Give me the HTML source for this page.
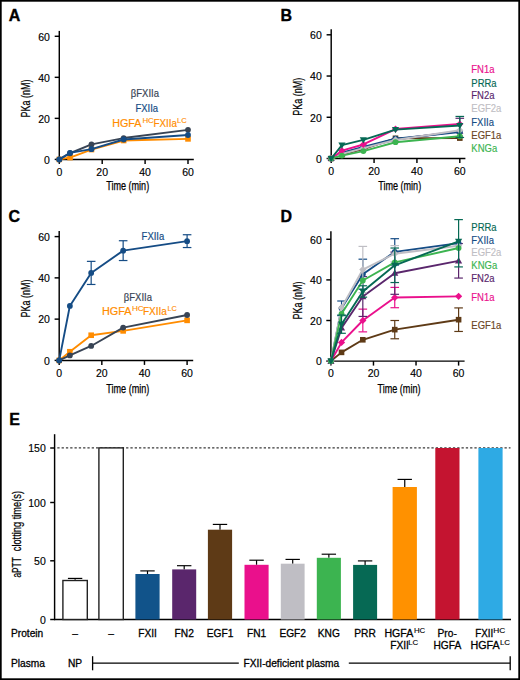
<!DOCTYPE html>
<html><head><meta charset="utf-8"><title>Figure</title>
<style>
html,body{margin:0;padding:0;background:#fff;}
body{width:520px;height:680px;overflow:hidden;}
svg{display:block;font-family:"Liberation Sans", sans-serif;}
</style></head>
<body>
<svg width="520" height="680" viewBox="0 0 520 680">
<rect x="0" y="0" width="520" height="680" fill="#fff"/>
<g>
<text x="8.80" y="20.60" font-size="16" fill="#000" text-anchor="start" font-weight="bold" stroke="#000" stroke-width="0.35">A</text>
<line x1="59.30" y1="30.90" x2="59.30" y2="160.05" stroke="#000" stroke-width="1.45" />
<line x1="58.65" y1="159.40" x2="193.80" y2="159.40" stroke="#000" stroke-width="1.45" />
<line x1="54.70" y1="159.40" x2="59.30" y2="159.40" stroke="#000" stroke-width="1.45" />
<text x="49.90" y="163.70" font-size="10.5" fill="#000" text-anchor="end" font-weight="normal"  stroke="#000" stroke-width="0.15">0</text>
<line x1="54.70" y1="118.37" x2="59.30" y2="118.37" stroke="#000" stroke-width="1.45" />
<text x="49.90" y="122.67" font-size="10.5" fill="#000" text-anchor="end" font-weight="normal"  stroke="#000" stroke-width="0.15">20</text>
<line x1="54.70" y1="77.33" x2="59.30" y2="77.33" stroke="#000" stroke-width="1.45" />
<text x="49.90" y="81.63" font-size="10.5" fill="#000" text-anchor="end" font-weight="normal"  stroke="#000" stroke-width="0.15">40</text>
<line x1="54.70" y1="36.30" x2="59.30" y2="36.30" stroke="#000" stroke-width="1.45" />
<text x="49.90" y="40.60" font-size="10.5" fill="#000" text-anchor="end" font-weight="normal"  stroke="#000" stroke-width="0.15">60</text>
<line x1="59.30" y1="159.40" x2="59.30" y2="163.90" stroke="#000" stroke-width="1.45" />
<text x="59.30" y="175.50" font-size="10.5" fill="#000" text-anchor="middle" font-weight="normal"  stroke="#000" stroke-width="0.15">0</text>
<line x1="102.20" y1="159.40" x2="102.20" y2="163.90" stroke="#000" stroke-width="1.45" />
<text x="102.20" y="175.50" font-size="10.5" fill="#000" text-anchor="middle" font-weight="normal"  stroke="#000" stroke-width="0.15">20</text>
<line x1="145.10" y1="159.40" x2="145.10" y2="163.90" stroke="#000" stroke-width="1.45" />
<text x="145.10" y="175.50" font-size="10.5" fill="#000" text-anchor="middle" font-weight="normal"  stroke="#000" stroke-width="0.15">40</text>
<line x1="188.00" y1="159.40" x2="188.00" y2="163.90" stroke="#000" stroke-width="1.45" />
<text x="188.00" y="175.50" font-size="10.5" fill="#000" text-anchor="middle" font-weight="normal"  stroke="#000" stroke-width="0.15">60</text>
<text transform="translate(30.30,98.40) rotate(-90)" font-size="12.5" text-anchor="middle" textLength="38" lengthAdjust="spacingAndGlyphs" stroke="#000" stroke-width="0.25">PKa (nM)</text>
<text x="127.70" y="190.00" font-size="12" text-anchor="middle" textLength="43" lengthAdjust="spacingAndGlyphs" stroke="#000" stroke-width="0.25">Time (min)</text>
<text transform="translate(130.80,97.30) scale(0.95,1)" font-size="10" fill="#384455" text-anchor="start" font-weight="normal"  stroke="#384455" stroke-width="0.18">&#946;FXIIa</text>
<text transform="translate(135.40,112.00) scale(0.95,1)" font-size="10" fill="#154c85" text-anchor="start" font-weight="normal"  stroke="#154c85" stroke-width="0.18">FXIIa</text>
<text x="112.24" y="126.60" font-size="10" fill="#ff8c00" textLength="29.29" lengthAdjust="spacingAndGlyphs" stroke="#ff8c00" stroke-width="0.18">HGFA</text>
<text x="142.46" y="123.40" font-size="7.8" fill="#ff8c00" textLength="11.34" lengthAdjust="spacingAndGlyphs" stroke="#ff8c00" stroke-width="0.12">HC</text>
<text x="153.39" y="126.60" font-size="10" fill="#ff8c00" textLength="23.51" lengthAdjust="spacingAndGlyphs" stroke="#ff8c00" stroke-width="0.18">FXIIa</text>
<text x="177.08" y="123.40" font-size="7.8" fill="#ff8c00" textLength="9.71" lengthAdjust="spacingAndGlyphs" stroke="#ff8c00" stroke-width="0.12">LC</text>
<polyline points="59.30,159.40 70.02,157.55 91.47,149.55 123.65,140.52 188.00,138.88" fill="none" stroke="#ff8c00" stroke-width="1.9" stroke-linejoin="round"/>
<rect x="56.50" y="156.60" width="5.60" height="5.60" fill="#ff8c00"/>
<rect x="67.22" y="154.75" width="5.60" height="5.60" fill="#ff8c00"/>
<rect x="88.67" y="146.75" width="5.60" height="5.60" fill="#ff8c00"/>
<rect x="120.85" y="137.72" width="5.60" height="5.60" fill="#ff8c00"/>
<rect x="185.20" y="136.08" width="5.60" height="5.60" fill="#ff8c00"/>
<polyline points="59.30,159.40 70.02,153.25 91.47,144.42 123.65,138.06 188.00,129.86" fill="none" stroke="#384455" stroke-width="1.9" stroke-linejoin="round"/>
<circle cx="59.30" cy="159.40" r="2.90" fill="#384455"/>
<circle cx="70.02" cy="153.25" r="2.90" fill="#384455"/>
<circle cx="91.47" cy="144.42" r="2.90" fill="#384455"/>
<circle cx="123.65" cy="138.06" r="2.90" fill="#384455"/>
<circle cx="188.00" cy="129.86" r="2.90" fill="#384455"/>
<polyline points="59.30,159.40 70.02,152.83 91.47,149.14 123.65,139.50 188.00,134.99" fill="none" stroke="#154c85" stroke-width="1.9" stroke-linejoin="round"/>
<circle cx="59.30" cy="159.40" r="2.90" fill="#154c85"/>
<circle cx="70.02" cy="152.83" r="2.90" fill="#154c85"/>
<circle cx="91.47" cy="149.14" r="2.90" fill="#154c85"/>
<circle cx="123.65" cy="139.50" r="2.90" fill="#154c85"/>
<circle cx="188.00" cy="134.99" r="2.90" fill="#154c85"/>
</g>
<g>
<text x="280.50" y="20.60" font-size="16" fill="#000" text-anchor="start" font-weight="bold" stroke="#000" stroke-width="0.35">B</text>
<line x1="331.20" y1="29.20" x2="331.20" y2="159.15" stroke="#000" stroke-width="1.45" />
<line x1="330.55" y1="158.50" x2="465.40" y2="158.50" stroke="#000" stroke-width="1.45" />
<line x1="326.60" y1="158.50" x2="331.20" y2="158.50" stroke="#000" stroke-width="1.45" />
<text x="321.80" y="162.80" font-size="10.5" fill="#000" text-anchor="end" font-weight="normal"  stroke="#000" stroke-width="0.15">0</text>
<line x1="326.60" y1="117.27" x2="331.20" y2="117.27" stroke="#000" stroke-width="1.45" />
<text x="321.80" y="121.57" font-size="10.5" fill="#000" text-anchor="end" font-weight="normal"  stroke="#000" stroke-width="0.15">20</text>
<line x1="326.60" y1="76.03" x2="331.20" y2="76.03" stroke="#000" stroke-width="1.45" />
<text x="321.80" y="80.33" font-size="10.5" fill="#000" text-anchor="end" font-weight="normal"  stroke="#000" stroke-width="0.15">40</text>
<line x1="326.60" y1="34.80" x2="331.20" y2="34.80" stroke="#000" stroke-width="1.45" />
<text x="321.80" y="39.10" font-size="10.5" fill="#000" text-anchor="end" font-weight="normal"  stroke="#000" stroke-width="0.15">60</text>
<line x1="331.20" y1="158.50" x2="331.20" y2="163.00" stroke="#000" stroke-width="1.45" />
<text x="331.20" y="175.00" font-size="10.5" fill="#000" text-anchor="middle" font-weight="normal"  stroke="#000" stroke-width="0.15">0</text>
<line x1="374.07" y1="158.50" x2="374.07" y2="163.00" stroke="#000" stroke-width="1.45" />
<text x="374.07" y="175.00" font-size="10.5" fill="#000" text-anchor="middle" font-weight="normal"  stroke="#000" stroke-width="0.15">20</text>
<line x1="416.93" y1="158.50" x2="416.93" y2="163.00" stroke="#000" stroke-width="1.45" />
<text x="416.93" y="175.00" font-size="10.5" fill="#000" text-anchor="middle" font-weight="normal"  stroke="#000" stroke-width="0.15">40</text>
<line x1="459.80" y1="158.50" x2="459.80" y2="163.00" stroke="#000" stroke-width="1.45" />
<text x="459.80" y="175.00" font-size="10.5" fill="#000" text-anchor="middle" font-weight="normal"  stroke="#000" stroke-width="0.15">60</text>
<text transform="translate(301.50,96.80) rotate(-90)" font-size="12.5" text-anchor="middle" textLength="38" lengthAdjust="spacingAndGlyphs" stroke="#000" stroke-width="0.25">PKa (nM)</text>
<text x="399.70" y="189.50" font-size="12" text-anchor="middle" textLength="43" lengthAdjust="spacingAndGlyphs" stroke="#000" stroke-width="0.25">Time (min)</text>
<text transform="translate(471.30,72.60) scale(0.95,1)" font-size="10" fill="#ea108c" text-anchor="start" font-weight="normal"  stroke="#ea108c" stroke-width="0.15">FN1a</text>
<text transform="translate(471.30,86.80) scale(0.95,1)" font-size="10" fill="#066954" text-anchor="start" font-weight="normal"  stroke="#066954" stroke-width="0.15">PRRa</text>
<text transform="translate(471.30,98.90) scale(0.95,1)" font-size="10" fill="#5a266c" text-anchor="start" font-weight="normal"  stroke="#5a266c" stroke-width="0.15">FN2a</text>
<text transform="translate(471.30,112.20) scale(0.95,1)" font-size="10" fill="#bfbec4" text-anchor="start" font-weight="normal"  stroke="#bfbec4" stroke-width="0.15">EGF2a</text>
<text transform="translate(471.30,126.20) scale(0.95,1)" font-size="10" fill="#154c85" text-anchor="start" font-weight="normal"  stroke="#154c85" stroke-width="0.15">FXIIa</text>
<text transform="translate(471.30,138.60) scale(0.95,1)" font-size="10" fill="#6b4626" text-anchor="start" font-weight="normal"  stroke="#6b4626" stroke-width="0.15">EGF1a</text>
<text transform="translate(471.30,151.80) scale(0.95,1)" font-size="10" fill="#3cb450" text-anchor="start" font-weight="normal"  stroke="#3cb450" stroke-width="0.15">KNGa</text>
<polyline points="331.20,158.50 341.92,154.58 363.35,149.02 395.50,138.30 459.80,138.09" fill="none" stroke="#5e3a16" stroke-width="1.9" stroke-linejoin="round"/>
<rect x="328.40" y="155.70" width="5.60" height="5.60" fill="#5e3a16"/>
<rect x="339.12" y="151.78" width="5.60" height="5.60" fill="#5e3a16"/>
<rect x="360.55" y="146.22" width="5.60" height="5.60" fill="#5e3a16"/>
<rect x="392.70" y="135.50" width="5.60" height="5.60" fill="#5e3a16"/>
<rect x="457.00" y="135.29" width="5.60" height="5.60" fill="#5e3a16"/>
<line x1="459.80" y1="118.30" x2="459.80" y2="131.08" stroke="#5a266c" stroke-width="1.2" />
<line x1="455.50" y1="118.30" x2="464.10" y2="118.30" stroke="#5a266c" stroke-width="1.2" />
<polyline points="331.20,158.50 341.92,153.55 363.35,147.78 395.50,139.53 459.80,131.08" fill="none" stroke="#5a266c" stroke-width="1.9" stroke-linejoin="round"/>
<path d="M331.20 154.90L334.80 161.10L327.60 161.10Z" fill="#5a266c"/>
<path d="M341.92 149.95L345.52 156.15L338.32 156.15Z" fill="#5a266c"/>
<path d="M363.35 144.18L366.95 150.38L359.75 150.38Z" fill="#5a266c"/>
<path d="M395.50 135.93L399.10 142.13L391.90 142.13Z" fill="#5a266c"/>
<path d="M459.80 127.48L463.40 133.68L456.20 133.68Z" fill="#5a266c"/>
<polyline points="331.20,158.50 341.92,152.73 363.35,146.95 395.50,138.71 459.80,132.11" fill="none" stroke="#154c85" stroke-width="1.9" stroke-linejoin="round"/>
<circle cx="331.20" cy="158.50" r="2.90" fill="#154c85"/>
<circle cx="341.92" cy="152.73" r="2.90" fill="#154c85"/>
<circle cx="363.35" cy="146.95" r="2.90" fill="#154c85"/>
<circle cx="395.50" cy="138.71" r="2.90" fill="#154c85"/>
<circle cx="459.80" cy="132.11" r="2.90" fill="#154c85"/>
<polyline points="331.20,158.50 341.92,153.96 363.35,148.19 395.50,139.94 459.80,130.26" fill="none" stroke="#bfbec4" stroke-width="1.9" stroke-linejoin="round"/>
<path d="M331.20 154.90L334.80 158.50L331.20 162.10L327.60 158.50Z" fill="#bfbec4"/>
<path d="M341.92 150.36L345.52 153.96L341.92 157.56L338.32 153.96Z" fill="#bfbec4"/>
<path d="M363.35 144.59L366.95 148.19L363.35 151.79L359.75 148.19Z" fill="#bfbec4"/>
<path d="M395.50 136.34L399.10 139.94L395.50 143.54L391.90 139.94Z" fill="#bfbec4"/>
<path d="M459.80 126.66L463.40 130.26L459.80 133.86L456.20 130.26Z" fill="#bfbec4"/>
<polyline points="331.20,158.50 341.92,150.67 363.35,144.48 395.50,129.02 459.80,124.07" fill="none" stroke="#ea108c" stroke-width="1.9" stroke-linejoin="round"/>
<path d="M331.20 154.90L334.80 158.50L331.20 162.10L327.60 158.50Z" fill="#ea108c"/>
<path d="M341.92 147.07L345.52 150.67L341.92 154.27L338.32 150.67Z" fill="#ea108c"/>
<path d="M363.35 140.88L366.95 144.48L363.35 148.08L359.75 144.48Z" fill="#ea108c"/>
<path d="M395.50 125.42L399.10 129.02L395.50 132.62L391.90 129.02Z" fill="#ea108c"/>
<path d="M459.80 120.47L463.40 124.07L459.80 127.67L456.20 124.07Z" fill="#ea108c"/>
<polyline points="331.20,158.50 341.92,155.61 363.35,151.08 395.50,142.21 459.80,136.23" fill="none" stroke="#3cb450" stroke-width="1.9" stroke-linejoin="round"/>
<circle cx="331.20" cy="158.50" r="2.90" fill="#3cb450"/>
<circle cx="341.92" cy="155.61" r="2.90" fill="#3cb450"/>
<circle cx="363.35" cy="151.08" r="2.90" fill="#3cb450"/>
<circle cx="395.50" cy="142.21" r="2.90" fill="#3cb450"/>
<circle cx="459.80" cy="136.23" r="2.90" fill="#3cb450"/>
<line x1="459.80" y1="116.44" x2="459.80" y2="137.47" stroke="#066954" stroke-width="1.2" />
<line x1="455.50" y1="116.44" x2="464.10" y2="116.44" stroke="#066954" stroke-width="1.2" />
<line x1="455.50" y1="137.47" x2="464.10" y2="137.47" stroke="#066954" stroke-width="1.2" />
<polyline points="331.20,158.50 341.92,145.10 363.35,139.94 395.50,129.64 459.80,125.51" fill="none" stroke="#066954" stroke-width="1.9" stroke-linejoin="round"/>
<path d="M331.20 162.10L334.80 155.90L327.60 155.90Z" fill="#066954"/>
<path d="M341.92 148.70L345.52 142.50L338.32 142.50Z" fill="#066954"/>
<path d="M363.35 143.54L366.95 137.34L359.75 137.34Z" fill="#066954"/>
<path d="M395.50 133.24L399.10 127.04L391.90 127.04Z" fill="#066954"/>
<path d="M459.80 129.11L463.40 122.91L456.20 122.91Z" fill="#066954"/>
</g>
<g>
<text x="8.50" y="222.30" font-size="16" fill="#000" text-anchor="start" font-weight="bold" stroke="#000" stroke-width="0.35">C</text>
<line x1="59.20" y1="231.10" x2="59.20" y2="361.05" stroke="#000" stroke-width="1.45" />
<line x1="58.55" y1="360.40" x2="193.20" y2="360.40" stroke="#000" stroke-width="1.45" />
<line x1="54.60" y1="360.40" x2="59.20" y2="360.40" stroke="#000" stroke-width="1.45" />
<text x="49.90" y="364.70" font-size="10.5" fill="#000" text-anchor="end" font-weight="normal"  stroke="#000" stroke-width="0.15">0</text>
<line x1="54.60" y1="319.13" x2="59.20" y2="319.13" stroke="#000" stroke-width="1.45" />
<text x="49.90" y="323.43" font-size="10.5" fill="#000" text-anchor="end" font-weight="normal"  stroke="#000" stroke-width="0.15">20</text>
<line x1="54.60" y1="277.87" x2="59.20" y2="277.87" stroke="#000" stroke-width="1.45" />
<text x="49.90" y="282.17" font-size="10.5" fill="#000" text-anchor="end" font-weight="normal"  stroke="#000" stroke-width="0.15">40</text>
<line x1="54.60" y1="236.60" x2="59.20" y2="236.60" stroke="#000" stroke-width="1.45" />
<text x="49.90" y="240.90" font-size="10.5" fill="#000" text-anchor="end" font-weight="normal"  stroke="#000" stroke-width="0.15">60</text>
<line x1="59.20" y1="360.40" x2="59.20" y2="364.90" stroke="#000" stroke-width="1.45" />
<text x="59.20" y="376.50" font-size="10.5" fill="#000" text-anchor="middle" font-weight="normal"  stroke="#000" stroke-width="0.15">0</text>
<line x1="101.83" y1="360.40" x2="101.83" y2="364.90" stroke="#000" stroke-width="1.45" />
<text x="101.83" y="376.50" font-size="10.5" fill="#000" text-anchor="middle" font-weight="normal"  stroke="#000" stroke-width="0.15">20</text>
<line x1="144.47" y1="360.40" x2="144.47" y2="364.90" stroke="#000" stroke-width="1.45" />
<text x="144.47" y="376.50" font-size="10.5" fill="#000" text-anchor="middle" font-weight="normal"  stroke="#000" stroke-width="0.15">40</text>
<line x1="187.10" y1="360.40" x2="187.10" y2="364.90" stroke="#000" stroke-width="1.45" />
<text x="187.10" y="376.50" font-size="10.5" fill="#000" text-anchor="middle" font-weight="normal"  stroke="#000" stroke-width="0.15">60</text>
<text transform="translate(30.30,298.60) rotate(-90)" font-size="12.5" text-anchor="middle" textLength="38" lengthAdjust="spacingAndGlyphs" stroke="#000" stroke-width="0.25">PKa (nM)</text>
<text x="127.80" y="392.80" font-size="12" text-anchor="middle" textLength="43" lengthAdjust="spacingAndGlyphs" stroke="#000" stroke-width="0.25">Time (min)</text>
<text transform="translate(141.60,239.80) scale(0.95,1)" font-size="10" fill="#154c85" text-anchor="start" font-weight="normal"  stroke="#154c85" stroke-width="0.18">FXIIa</text>
<text transform="translate(123.80,301.00) scale(0.95,1)" font-size="10" fill="#384455" text-anchor="start" font-weight="normal"  stroke="#384455" stroke-width="0.18">&#946;FXIIa</text>
<text x="101.93" y="315.00" font-size="10" fill="#ff8c00" textLength="29.59" lengthAdjust="spacingAndGlyphs" stroke="#ff8c00" stroke-width="0.18">HGFA</text>
<text x="131.93" y="311.20" font-size="7.8" fill="#ff8c00" textLength="11.78" lengthAdjust="spacingAndGlyphs" stroke="#ff8c00" stroke-width="0.12">HC</text>
<text x="142.98" y="315.00" font-size="10" fill="#ff8c00" textLength="23.92" lengthAdjust="spacingAndGlyphs" stroke="#ff8c00" stroke-width="0.18">FXIIa</text>
<text x="167.40" y="311.20" font-size="7.8" fill="#ff8c00" textLength="9.38" lengthAdjust="spacingAndGlyphs" stroke="#ff8c00" stroke-width="0.12">LC</text>
<polyline points="59.20,360.40 69.86,351.73 91.17,335.23 123.15,330.89 187.10,320.37" fill="none" stroke="#ff8c00" stroke-width="1.9" stroke-linejoin="round"/>
<rect x="56.40" y="357.60" width="5.60" height="5.60" fill="#ff8c00"/>
<rect x="67.06" y="348.93" width="5.60" height="5.60" fill="#ff8c00"/>
<rect x="88.38" y="332.43" width="5.60" height="5.60" fill="#ff8c00"/>
<rect x="120.35" y="328.09" width="5.60" height="5.60" fill="#ff8c00"/>
<rect x="184.30" y="317.57" width="5.60" height="5.60" fill="#ff8c00"/>
<polyline points="59.20,360.40 69.86,355.45 91.17,345.96 123.15,327.59 187.10,315.01" fill="none" stroke="#384455" stroke-width="1.9" stroke-linejoin="round"/>
<circle cx="59.20" cy="360.40" r="2.90" fill="#384455"/>
<circle cx="69.86" cy="355.45" r="2.90" fill="#384455"/>
<circle cx="91.17" cy="345.96" r="2.90" fill="#384455"/>
<circle cx="123.15" cy="327.59" r="2.90" fill="#384455"/>
<circle cx="187.10" cy="315.01" r="2.90" fill="#384455"/>
<line x1="91.17" y1="261.36" x2="91.17" y2="284.47" stroke="#154c85" stroke-width="1.2" />
<line x1="86.88" y1="261.36" x2="95.47" y2="261.36" stroke="#154c85" stroke-width="1.2" />
<line x1="86.88" y1="284.47" x2="95.47" y2="284.47" stroke="#154c85" stroke-width="1.2" />
<line x1="123.15" y1="240.73" x2="123.15" y2="260.53" stroke="#154c85" stroke-width="1.2" />
<line x1="118.85" y1="240.73" x2="127.45" y2="240.73" stroke="#154c85" stroke-width="1.2" />
<line x1="118.85" y1="260.53" x2="127.45" y2="260.53" stroke="#154c85" stroke-width="1.2" />
<line x1="187.10" y1="234.74" x2="187.10" y2="247.54" stroke="#154c85" stroke-width="1.2" />
<line x1="182.80" y1="234.74" x2="191.40" y2="234.74" stroke="#154c85" stroke-width="1.2" />
<line x1="182.80" y1="247.54" x2="191.40" y2="247.54" stroke="#154c85" stroke-width="1.2" />
<polyline points="59.20,360.40 69.86,305.93 91.17,272.91 123.15,250.63 187.10,241.14" fill="none" stroke="#154c85" stroke-width="1.9" stroke-linejoin="round"/>
<circle cx="59.20" cy="360.40" r="2.90" fill="#154c85"/>
<circle cx="69.86" cy="305.93" r="2.90" fill="#154c85"/>
<circle cx="91.17" cy="272.91" r="2.90" fill="#154c85"/>
<circle cx="123.15" cy="250.63" r="2.90" fill="#154c85"/>
<circle cx="187.10" cy="241.14" r="2.90" fill="#154c85"/>
</g>
<g>
<text x="280.40" y="222.20" font-size="16" fill="#000" text-anchor="start" font-weight="bold" stroke="#000" stroke-width="0.35">D</text>
<line x1="330.90" y1="231.20" x2="330.90" y2="361.75" stroke="#000" stroke-width="1.45" />
<line x1="330.25" y1="361.10" x2="464.60" y2="361.10" stroke="#000" stroke-width="1.45" />
<line x1="326.30" y1="361.10" x2="330.90" y2="361.10" stroke="#000" stroke-width="1.45" />
<text x="321.80" y="365.40" font-size="10.5" fill="#000" text-anchor="end" font-weight="normal"  stroke="#000" stroke-width="0.15">0</text>
<line x1="326.30" y1="320.50" x2="330.90" y2="320.50" stroke="#000" stroke-width="1.45" />
<text x="321.80" y="324.80" font-size="10.5" fill="#000" text-anchor="end" font-weight="normal"  stroke="#000" stroke-width="0.15">20</text>
<line x1="326.30" y1="279.90" x2="330.90" y2="279.90" stroke="#000" stroke-width="1.45" />
<text x="321.80" y="284.20" font-size="10.5" fill="#000" text-anchor="end" font-weight="normal"  stroke="#000" stroke-width="0.15">40</text>
<line x1="326.30" y1="239.30" x2="330.90" y2="239.30" stroke="#000" stroke-width="1.45" />
<text x="321.80" y="243.60" font-size="10.5" fill="#000" text-anchor="end" font-weight="normal"  stroke="#000" stroke-width="0.15">60</text>
<line x1="330.90" y1="361.10" x2="330.90" y2="365.60" stroke="#000" stroke-width="1.45" />
<text x="330.90" y="377.00" font-size="10.5" fill="#000" text-anchor="middle" font-weight="normal"  stroke="#000" stroke-width="0.15">0</text>
<line x1="373.47" y1="361.10" x2="373.47" y2="365.60" stroke="#000" stroke-width="1.45" />
<text x="373.47" y="377.00" font-size="10.5" fill="#000" text-anchor="middle" font-weight="normal"  stroke="#000" stroke-width="0.15">20</text>
<line x1="416.03" y1="361.10" x2="416.03" y2="365.60" stroke="#000" stroke-width="1.45" />
<text x="416.03" y="377.00" font-size="10.5" fill="#000" text-anchor="middle" font-weight="normal"  stroke="#000" stroke-width="0.15">40</text>
<line x1="458.60" y1="361.10" x2="458.60" y2="365.60" stroke="#000" stroke-width="1.45" />
<text x="458.60" y="377.00" font-size="10.5" fill="#000" text-anchor="middle" font-weight="normal"  stroke="#000" stroke-width="0.15">60</text>
<text transform="translate(301.50,300.40) rotate(-90)" font-size="12.5" text-anchor="middle" textLength="38" lengthAdjust="spacingAndGlyphs" stroke="#000" stroke-width="0.25">PKa (nM)</text>
<text x="399.00" y="392.80" font-size="12" text-anchor="middle" textLength="43" lengthAdjust="spacingAndGlyphs" stroke="#000" stroke-width="0.25">Time (min)</text>
<text transform="translate(471.30,231.30) scale(0.95,1)" font-size="10" fill="#066954" text-anchor="start" font-weight="normal"  stroke="#066954" stroke-width="0.15">PRRa</text>
<text transform="translate(471.30,244.00) scale(0.95,1)" font-size="10" fill="#154c85" text-anchor="start" font-weight="normal"  stroke="#154c85" stroke-width="0.15">FXIIa</text>
<text transform="translate(471.30,256.40) scale(0.95,1)" font-size="10" fill="#bfbec4" text-anchor="start" font-weight="normal"  stroke="#bfbec4" stroke-width="0.15">EGF2a</text>
<text transform="translate(471.30,269.10) scale(0.95,1)" font-size="10" fill="#3cb450" text-anchor="start" font-weight="normal"  stroke="#3cb450" stroke-width="0.15">KNGa</text>
<text transform="translate(471.30,281.60) scale(0.95,1)" font-size="10" fill="#5a266c" text-anchor="start" font-weight="normal"  stroke="#5a266c" stroke-width="0.15">FN2a</text>
<text transform="translate(471.30,300.60) scale(0.95,1)" font-size="10" fill="#ea108c" text-anchor="start" font-weight="normal"  stroke="#ea108c" stroke-width="0.15">FN1a</text>
<text transform="translate(471.30,328.70) scale(0.95,1)" font-size="10" fill="#6b4626" text-anchor="start" font-weight="normal"  stroke="#6b4626" stroke-width="0.15">EGF1a</text>
<line x1="394.75" y1="320.50" x2="394.75" y2="338.77" stroke="#5e3a16" stroke-width="1.2" />
<line x1="390.45" y1="320.50" x2="399.05" y2="320.50" stroke="#5e3a16" stroke-width="1.2" />
<line x1="390.45" y1="338.77" x2="399.05" y2="338.77" stroke="#5e3a16" stroke-width="1.2" />
<line x1="458.60" y1="307.91" x2="458.60" y2="331.46" stroke="#5e3a16" stroke-width="1.2" />
<line x1="454.30" y1="307.91" x2="462.90" y2="307.91" stroke="#5e3a16" stroke-width="1.2" />
<line x1="454.30" y1="331.46" x2="462.90" y2="331.46" stroke="#5e3a16" stroke-width="1.2" />
<polyline points="330.90,361.10 341.54,352.37 362.82,339.79 394.75,329.64 458.60,319.69" fill="none" stroke="#5e3a16" stroke-width="1.9" stroke-linejoin="round"/>
<rect x="328.10" y="358.30" width="5.60" height="5.60" fill="#5e3a16"/>
<rect x="338.74" y="349.57" width="5.60" height="5.60" fill="#5e3a16"/>
<rect x="360.02" y="336.99" width="5.60" height="5.60" fill="#5e3a16"/>
<rect x="391.95" y="326.84" width="5.60" height="5.60" fill="#5e3a16"/>
<rect x="455.80" y="316.89" width="5.60" height="5.60" fill="#5e3a16"/>
<line x1="362.82" y1="309.13" x2="362.82" y2="331.87" stroke="#ea108c" stroke-width="1.2" />
<line x1="358.52" y1="309.13" x2="367.12" y2="309.13" stroke="#ea108c" stroke-width="1.2" />
<line x1="358.52" y1="331.87" x2="367.12" y2="331.87" stroke="#ea108c" stroke-width="1.2" />
<line x1="394.75" y1="287.41" x2="394.75" y2="307.71" stroke="#ea108c" stroke-width="1.2" />
<line x1="390.45" y1="287.41" x2="399.05" y2="287.41" stroke="#ea108c" stroke-width="1.2" />
<line x1="390.45" y1="307.71" x2="399.05" y2="307.71" stroke="#ea108c" stroke-width="1.2" />
<polyline points="330.90,361.10 341.54,342.42 362.82,320.50 394.75,297.56 458.60,296.34" fill="none" stroke="#ea108c" stroke-width="1.9" stroke-linejoin="round"/>
<path d="M330.90 357.50L334.50 361.10L330.90 364.70L327.30 361.10Z" fill="#ea108c"/>
<path d="M341.54 338.82L345.14 342.42L341.54 346.02L337.94 342.42Z" fill="#ea108c"/>
<path d="M362.82 316.90L366.43 320.50L362.82 324.10L359.22 320.50Z" fill="#ea108c"/>
<path d="M394.75 293.96L398.35 297.56L394.75 301.16L391.15 297.56Z" fill="#ea108c"/>
<path d="M458.60 292.74L462.20 296.34L458.60 299.94L455.00 296.34Z" fill="#ea108c"/>
<line x1="362.82" y1="276.65" x2="362.82" y2="316.44" stroke="#5a266c" stroke-width="1.2" />
<line x1="358.52" y1="276.65" x2="367.12" y2="276.65" stroke="#5a266c" stroke-width="1.2" />
<line x1="358.52" y1="316.44" x2="367.12" y2="316.44" stroke="#5a266c" stroke-width="1.2" />
<line x1="394.75" y1="252.09" x2="394.75" y2="294.31" stroke="#5a266c" stroke-width="1.2" />
<line x1="390.45" y1="252.09" x2="399.05" y2="252.09" stroke="#5a266c" stroke-width="1.2" />
<line x1="390.45" y1="294.31" x2="399.05" y2="294.31" stroke="#5a266c" stroke-width="1.2" />
<line x1="458.60" y1="243.56" x2="458.60" y2="278.07" stroke="#5a266c" stroke-width="1.2" />
<line x1="454.30" y1="243.56" x2="462.90" y2="243.56" stroke="#5a266c" stroke-width="1.2" />
<line x1="454.30" y1="278.07" x2="462.90" y2="278.07" stroke="#5a266c" stroke-width="1.2" />
<polyline points="330.90,361.10 341.54,328.01 362.82,296.55 394.75,273.20 458.60,260.82" fill="none" stroke="#5a266c" stroke-width="1.9" stroke-linejoin="round"/>
<path d="M330.90 357.50L334.50 363.70L327.30 363.70Z" fill="#5a266c"/>
<path d="M341.54 324.41L345.14 330.61L337.94 330.61Z" fill="#5a266c"/>
<path d="M362.82 292.95L366.43 299.15L359.22 299.15Z" fill="#5a266c"/>
<path d="M394.75 269.60L398.35 275.80L391.15 275.80Z" fill="#5a266c"/>
<path d="M458.60 257.22L462.20 263.42L455.00 263.42Z" fill="#5a266c"/>
<line x1="341.54" y1="301.01" x2="341.54" y2="315.63" stroke="#154c85" stroke-width="1.2" />
<line x1="337.24" y1="301.01" x2="345.84" y2="301.01" stroke="#154c85" stroke-width="1.2" />
<line x1="337.24" y1="315.63" x2="345.84" y2="315.63" stroke="#154c85" stroke-width="1.2" />
<line x1="362.82" y1="259.19" x2="362.82" y2="289.24" stroke="#154c85" stroke-width="1.2" />
<line x1="358.52" y1="259.19" x2="367.12" y2="259.19" stroke="#154c85" stroke-width="1.2" />
<line x1="358.52" y1="289.24" x2="367.12" y2="289.24" stroke="#154c85" stroke-width="1.2" />
<line x1="394.75" y1="238.69" x2="394.75" y2="265.08" stroke="#154c85" stroke-width="1.2" />
<line x1="390.45" y1="238.69" x2="399.05" y2="238.69" stroke="#154c85" stroke-width="1.2" />
<line x1="390.45" y1="265.08" x2="399.05" y2="265.08" stroke="#154c85" stroke-width="1.2" />
<polyline points="330.90,361.10 341.54,308.32 362.82,274.22 394.75,251.89 458.60,243.16" fill="none" stroke="#154c85" stroke-width="1.9" stroke-linejoin="round"/>
<circle cx="330.90" cy="361.10" r="2.90" fill="#154c85"/>
<circle cx="341.54" cy="308.32" r="2.90" fill="#154c85"/>
<circle cx="362.82" cy="274.22" r="2.90" fill="#154c85"/>
<circle cx="394.75" cy="251.89" r="2.90" fill="#154c85"/>
<circle cx="458.60" cy="243.16" r="2.90" fill="#154c85"/>
<line x1="362.82" y1="246.41" x2="362.82" y2="292.69" stroke="#bfbec4" stroke-width="1.2" />
<line x1="358.52" y1="246.41" x2="367.12" y2="246.41" stroke="#bfbec4" stroke-width="1.2" />
<line x1="358.52" y1="292.69" x2="367.12" y2="292.69" stroke="#bfbec4" stroke-width="1.2" />
<line x1="394.75" y1="245.59" x2="394.75" y2="261.83" stroke="#bfbec4" stroke-width="1.2" />
<line x1="390.45" y1="245.59" x2="399.05" y2="245.59" stroke="#bfbec4" stroke-width="1.2" />
<line x1="390.45" y1="261.83" x2="399.05" y2="261.83" stroke="#bfbec4" stroke-width="1.2" />
<polyline points="330.90,361.10 341.54,307.71 362.82,269.55 394.75,253.71 458.60,245.80" fill="none" stroke="#bfbec4" stroke-width="1.9" stroke-linejoin="round"/>
<path d="M330.90 357.50L334.50 361.10L330.90 364.70L327.30 361.10Z" fill="#bfbec4"/>
<path d="M341.54 304.11L345.14 307.71L341.54 311.31L337.94 307.71Z" fill="#bfbec4"/>
<path d="M362.82 265.95L366.43 269.55L362.82 273.15L359.22 269.55Z" fill="#bfbec4"/>
<path d="M394.75 250.11L398.35 253.71L394.75 257.31L391.15 253.71Z" fill="#bfbec4"/>
<path d="M458.60 242.20L462.20 245.80L458.60 249.40L455.00 245.80Z" fill="#bfbec4"/>
<polyline points="330.90,361.10 341.54,313.80 362.82,280.51 394.75,262.44 458.60,248.03" fill="none" stroke="#3cb450" stroke-width="1.9" stroke-linejoin="round"/>
<circle cx="330.90" cy="361.10" r="2.90" fill="#3cb450"/>
<circle cx="341.54" cy="313.80" r="2.90" fill="#3cb450"/>
<circle cx="362.82" cy="280.51" r="2.90" fill="#3cb450"/>
<circle cx="394.75" cy="262.44" r="2.90" fill="#3cb450"/>
<circle cx="458.60" cy="248.03" r="2.90" fill="#3cb450"/>
<line x1="341.54" y1="315.02" x2="341.54" y2="333.29" stroke="#066954" stroke-width="1.2" />
<line x1="337.24" y1="315.02" x2="345.84" y2="315.02" stroke="#066954" stroke-width="1.2" />
<line x1="337.24" y1="333.29" x2="345.84" y2="333.29" stroke="#066954" stroke-width="1.2" />
<line x1="362.82" y1="285.79" x2="362.82" y2="297.16" stroke="#066954" stroke-width="1.2" />
<line x1="358.52" y1="285.79" x2="367.12" y2="285.79" stroke="#066954" stroke-width="1.2" />
<line x1="358.52" y1="297.16" x2="367.12" y2="297.16" stroke="#066954" stroke-width="1.2" />
<line x1="394.75" y1="248.03" x2="394.75" y2="282.54" stroke="#066954" stroke-width="1.2" />
<line x1="390.45" y1="248.03" x2="399.05" y2="248.03" stroke="#066954" stroke-width="1.2" />
<line x1="390.45" y1="282.54" x2="399.05" y2="282.54" stroke="#066954" stroke-width="1.2" />
<line x1="458.60" y1="219.61" x2="458.60" y2="266.91" stroke="#066954" stroke-width="1.2" />
<line x1="454.30" y1="219.61" x2="462.90" y2="219.61" stroke="#066954" stroke-width="1.2" />
<line x1="454.30" y1="266.91" x2="462.90" y2="266.91" stroke="#066954" stroke-width="1.2" />
<polyline points="330.90,361.10 341.54,324.15 362.82,291.47 394.75,265.28 458.60,241.33" fill="none" stroke="#066954" stroke-width="1.9" stroke-linejoin="round"/>
<path d="M330.90 364.70L334.50 358.50L327.30 358.50Z" fill="#066954"/>
<path d="M341.54 327.75L345.14 321.55L337.94 321.55Z" fill="#066954"/>
<path d="M362.82 295.07L366.43 288.87L359.22 288.87Z" fill="#066954"/>
<path d="M394.75 268.88L398.35 262.68L391.15 262.68Z" fill="#066954"/>
<path d="M458.60 244.93L462.20 238.73L455.00 238.73Z" fill="#066954"/>
</g>
<g>
<text x="9.20" y="425.30" font-size="16" fill="#000" text-anchor="start" font-weight="bold" stroke="#000" stroke-width="0.35">E</text>
<line x1="54.60" y1="434.20" x2="54.60" y2="620.10" stroke="#000" stroke-width="1.45" />
<line x1="53.95" y1="619.50" x2="511.00" y2="619.50" stroke="#000" stroke-width="1.45" />
<line x1="50.20" y1="619.50" x2="54.60" y2="619.50" stroke="#000" stroke-width="1.45" />
<text x="45.80" y="623.60" font-size="10.5" fill="#000" text-anchor="end" font-weight="normal"  stroke="#000" stroke-width="0.15">0</text>
<line x1="50.20" y1="560.80" x2="54.60" y2="560.80" stroke="#000" stroke-width="1.45" />
<text x="45.80" y="564.90" font-size="10.5" fill="#000" text-anchor="end" font-weight="normal"  stroke="#000" stroke-width="0.15">50</text>
<line x1="50.20" y1="502.50" x2="54.60" y2="502.50" stroke="#000" stroke-width="1.45" />
<text x="45.80" y="506.60" font-size="10.5" fill="#000" text-anchor="end" font-weight="normal"  stroke="#000" stroke-width="0.15">100</text>
<line x1="50.20" y1="448.00" x2="54.60" y2="448.00" stroke="#000" stroke-width="1.45" />
<text x="45.80" y="452.10" font-size="10.5" fill="#000" text-anchor="end" font-weight="normal"  stroke="#000" stroke-width="0.15">150</text>
<line x1="57.3" y1="447.8" x2="510.5" y2="447.8" stroke="#3a3a3a" stroke-width="1.15" stroke-dasharray="2.3 2.0"/>
<text transform="translate(20.9,567.4) rotate(-90)" font-size="12.5" text-anchor="middle" textLength="20.2" lengthAdjust="spacingAndGlyphs" stroke="#000" stroke-width="0.25">aPTT</text>
<text transform="translate(20.7,521.1) rotate(-90)" font-size="12.3" text-anchor="middle" textLength="60.3" lengthAdjust="spacingAndGlyphs" stroke="#000" stroke-width="0.25">clotting time(s)</text>
<line x1="75.10" y1="578.40" x2="75.10" y2="579.80" stroke="#000" stroke-width="1.2" />
<line x1="67.90" y1="578.40" x2="82.30" y2="578.40" stroke="#000" stroke-width="1.15" />
<rect x="62.90" y="580.50" width="24.40" height="39.00" fill="#fff" stroke="#222" stroke-width="1.4"/>
<rect x="98.90" y="447.90" width="24.40" height="171.60" fill="#fff" stroke="#222" stroke-width="1.4"/>
<line x1="147.50" y1="570.90" x2="147.50" y2="574.00" stroke="#000" stroke-width="1.2" />
<line x1="140.30" y1="570.90" x2="154.70" y2="570.90" stroke="#000" stroke-width="1.15" />
<rect x="135.40" y="574.00" width="24.20" height="45.50" fill="#11538a"/>
<line x1="184.20" y1="565.70" x2="184.20" y2="569.40" stroke="#000" stroke-width="1.2" />
<line x1="177.00" y1="565.70" x2="191.40" y2="565.70" stroke="#000" stroke-width="1.15" />
<rect x="172.20" y="569.40" width="24.00" height="50.10" fill="#5a266c"/>
<line x1="220.00" y1="524.40" x2="220.00" y2="529.70" stroke="#000" stroke-width="1.2" />
<line x1="212.80" y1="524.40" x2="227.20" y2="524.40" stroke="#000" stroke-width="1.15" />
<rect x="207.90" y="529.70" width="24.20" height="89.80" fill="#5e3a16"/>
<line x1="256.55" y1="560.20" x2="256.55" y2="564.80" stroke="#000" stroke-width="1.2" />
<line x1="249.35" y1="560.20" x2="263.75" y2="560.20" stroke="#000" stroke-width="1.15" />
<rect x="244.50" y="564.80" width="24.10" height="54.70" fill="#ea108c"/>
<line x1="292.70" y1="559.40" x2="292.70" y2="563.70" stroke="#000" stroke-width="1.2" />
<line x1="285.50" y1="559.40" x2="299.90" y2="559.40" stroke="#000" stroke-width="1.15" />
<rect x="280.80" y="563.70" width="23.80" height="55.80" fill="#bfbec4"/>
<line x1="328.85" y1="554.20" x2="328.85" y2="557.80" stroke="#000" stroke-width="1.2" />
<line x1="321.65" y1="554.20" x2="336.05" y2="554.20" stroke="#000" stroke-width="1.15" />
<rect x="316.80" y="557.80" width="24.10" height="61.70" fill="#3cb450"/>
<line x1="365.10" y1="560.90" x2="365.10" y2="564.90" stroke="#000" stroke-width="1.2" />
<line x1="357.90" y1="560.90" x2="372.30" y2="560.90" stroke="#000" stroke-width="1.15" />
<rect x="353.10" y="564.90" width="24.00" height="54.60" fill="#066954"/>
<line x1="404.75" y1="479.40" x2="404.75" y2="487.00" stroke="#000" stroke-width="1.2" />
<line x1="397.55" y1="479.40" x2="411.95" y2="479.40" stroke="#000" stroke-width="1.15" />
<rect x="392.60" y="487.00" width="24.30" height="132.50" fill="#ff9100"/>
<rect x="435.30" y="448.00" width="24.20" height="171.50" fill="#c41430"/>
<rect x="478.40" y="448.00" width="24.20" height="171.50" fill="#2eaae4"/>
<text x="11.00" y="636.90" font-size="10.2" fill="#000" text-anchor="start" font-weight="normal"  stroke="#000" stroke-width="0.28">Protein</text>
<text x="75.10" y="636.90" font-size="10.2" fill="#000" text-anchor="middle" font-weight="normal"  stroke="#000" stroke-width="0.28">&#8211;</text>
<text x="111.10" y="636.90" font-size="10.2" fill="#000" text-anchor="middle" font-weight="normal"  stroke="#000" stroke-width="0.28">&#8211;</text>
<text x="147.50" y="636.90" font-size="10.2" fill="#000" text-anchor="middle" font-weight="normal"  stroke="#000" stroke-width="0.28">FXII</text>
<text x="184.20" y="636.90" font-size="10.2" fill="#000" text-anchor="middle" font-weight="normal"  stroke="#000" stroke-width="0.28">FN2</text>
<text x="220.00" y="636.90" font-size="10.2" fill="#000" text-anchor="middle" font-weight="normal"  stroke="#000" stroke-width="0.28">EGF1</text>
<text x="256.55" y="636.90" font-size="10.2" fill="#000" text-anchor="middle" font-weight="normal"  stroke="#000" stroke-width="0.28">FN1</text>
<text x="292.70" y="636.90" font-size="10.2" fill="#000" text-anchor="middle" font-weight="normal"  stroke="#000" stroke-width="0.28">EGF2</text>
<text x="328.85" y="636.90" font-size="10.2" fill="#000" text-anchor="middle" font-weight="normal"  stroke="#000" stroke-width="0.28">KNG</text>
<text x="365.10" y="636.90" font-size="10.2" fill="#000" text-anchor="middle" font-weight="normal"  stroke="#000" stroke-width="0.28">PRR</text>
<text x="384.45" y="636.50" font-size="10" fill="#000" textLength="28.77" lengthAdjust="spacingAndGlyphs" stroke="#000" stroke-width="0.28">HGFA</text>
<text x="413.96" y="632.70" font-size="7.8" fill="#000" textLength="11.34" lengthAdjust="spacingAndGlyphs" stroke="#000" stroke-width="0.12">HC</text>
<text x="390.16" y="648.80" font-size="10" fill="#000" textLength="18.79" lengthAdjust="spacingAndGlyphs" stroke="#000" stroke-width="0.28">FXII</text>
<text x="408.26" y="645.10" font-size="7.8" fill="#000" textLength="10.04" lengthAdjust="spacingAndGlyphs" stroke="#000" stroke-width="0.12">LC</text>
<text x="447.20" y="636.70" font-size="10.2" fill="#000" text-anchor="middle" font-weight="normal"  stroke="#000" stroke-width="0.28">Pro-</text>
<text x="447.40" y="649.30" font-size="10.2" fill="#000" text-anchor="middle" font-weight="normal"  stroke="#000" stroke-width="0.28">HGFA</text>
<text x="475.29" y="636.50" font-size="10" fill="#000" textLength="18.01" lengthAdjust="spacingAndGlyphs" stroke="#000" stroke-width="0.28">FXII</text>
<text x="493.22" y="632.70" font-size="7.8" fill="#000" textLength="12.00" lengthAdjust="spacingAndGlyphs" stroke="#000" stroke-width="0.12">HC</text>
<text x="470.44" y="648.90" font-size="10" fill="#000" textLength="29.29" lengthAdjust="spacingAndGlyphs" stroke="#000" stroke-width="0.28">HGFA</text>
<text x="499.95" y="645.10" font-size="7.8" fill="#000" textLength="10.15" lengthAdjust="spacingAndGlyphs" stroke="#000" stroke-width="0.12">LC</text>
<text x="11.00" y="667.30" font-size="10.2" fill="#000" text-anchor="start" font-weight="normal"  stroke="#000" stroke-width="0.28">Plasma</text>
<text x="75.00" y="667.30" font-size="10.2" fill="#000" text-anchor="middle" font-weight="normal"  stroke="#000" stroke-width="0.28">NP</text>
<line x1="92.60" y1="656.20" x2="92.60" y2="670.30" stroke="#000" stroke-width="1.3" />
<line x1="92.60" y1="663.20" x2="238.80" y2="663.20" stroke="#000" stroke-width="1.2" />
<text x="291.30" y="667.20" font-size="10.2" fill="#000" text-anchor="middle" font-weight="normal"  stroke="#000" stroke-width="0.28">FXII-deficient plasma</text>
<line x1="348.80" y1="663.20" x2="510.20" y2="663.20" stroke="#000" stroke-width="1.2" />
<line x1="510.20" y1="656.20" x2="510.20" y2="670.30" stroke="#000" stroke-width="1.3" />
</g>
<rect x="0.8" y="0.8" width="518.4" height="678.4" fill="none" stroke="#000" stroke-width="1.8"/>
</svg>
</body></html>
